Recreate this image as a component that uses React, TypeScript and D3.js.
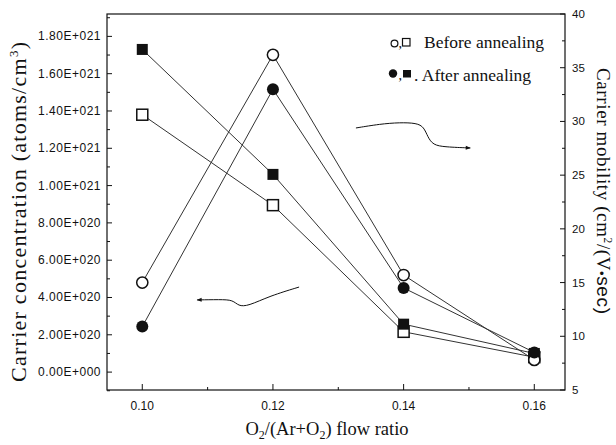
import React from "react";
import * as d3 from "d3";

// O2/(Ar+O2) flow ratios at which the films were deposited
const ratios = [0.1, 0.12, 0.14, 0.16];

// Carrier concentration (atoms/cm^3), left axis — squares
const concBefore = [1.38e21, 8.95e20, 2.16e20, 0.8e20];
const concAfter = [1.73e21, 1.06e21, 2.57e20, 1.0e20];

// Carrier mobility (cm^2/(V·sec)), right axis — circles
const mobBefore = [15.0, 36.2, 15.7, 7.8];
const mobAfter = [10.9, 33.0, 14.5, 8.5];

// Axis ticks
const ratioTicks = [0.1, 0.12, 0.14, 0.16];
const concTicks = [0, 2e20, 4e20, 6e20, 8e20, 1e21, 1.2e21, 1.4e21, 1.6e21, 1.8e21];
const mobilityTicks = [5, 10, 15, 20, 25, 30, 35, 40];

// Hand-drawn guide arrows, in data units (ratio, value on the axis they point to)
const concArrow: [number, number][] = [
  [0.124, 4.56e20],
  [0.1195, 4.08e20],
  [0.1162, 3.54e20],
  [0.1147, 3.54e20],
  [0.1139, 3.87e20],
  [0.1119, 3.89e20],
  [0.1084, 3.87e20],
];
const mobilityArrow: [number, number][] = [
  [0.1327, 29.39],
  [0.1364, 29.76],
  [0.1394, 29.9],
  [0.142, 29.85],
  [0.1431, 29.48],
  [0.1437, 28.55],
  [0.1445, 27.81],
  [0.1463, 27.62],
  [0.1502, 27.53],
];

const W = 616;
const H = 445;
const left = 107;
const right = 565;
const top = 14;
const bottom = 390;

const serif = "'Liberation Serif', 'DejaVu Serif', serif";
const sans = "'Liberation Sans', Arial, sans-serif";
const ink = "#111";
const lineInk = "#333";

function sci(v: number): string {
  if (v === 0) return "0.00E+000";
  const e = Math.floor(Math.log10(v) + 1e-9);
  const m = v / Math.pow(10, e);
  return `${m.toFixed(2)}E+${String(e).padStart(3, "0")}`;
}

function midpoints(t: number[]): number[] {
  const out: number[] = [];
  for (let i = 0; i < t.length - 1; i++) out.push((t[i] + t[i + 1]) / 2);
  return out;
}

export default function App() {
  const x = d3.scaleLinear().domain([0.0946, 0.1647]).range([left, right]);
  const yC = d3.scaleLinear().domain([-0.96e20, 1.92e21]).range([bottom, top]);
  const yM = d3.scaleLinear().domain([5, 40]).range([bottom, top]);

  const lineC = d3
    .line<number>()
    .x((_, i) => x(ratios[i]))
    .y((d) => yC(d));
  const lineM = d3
    .line<number>()
    .x((_, i) => x(ratios[i]))
    .y((d) => yM(d));

  const arrowC = d3
    .line<[number, number]>()
    .x((d) => x(d[0]))
    .y((d) => yC(d[1]))
    .curve(d3.curveBasis);
  const arrowM = d3
    .line<[number, number]>()
    .x((d) => x(d[0]))
    .y((d) => yM(d[1]))
    .curve(d3.curveBasis);

  const sq = 11;
  const r = 5.6;

  return (
    <svg
      width={W}
      height={H}
      viewBox={`0 0 ${W} ${H}`}
      style={{ position: "absolute", left: 0, top: 0, background: "#fff" }}
    >
      <defs>
        <marker
          id="head"
          viewBox="0 0 10 10"
          refX="9"
          refY="5"
          markerWidth="7"
          markerHeight="5"
          orient="auto"
          markerUnits="userSpaceOnUse"
        >
          <path d="M0,1 L10,5 L0,9 z" fill={ink} />
        </marker>
      </defs>
      <rect width={W} height={H} fill="#fff" />

      {/* frame */}
      <rect
        x={left}
        y={top}
        width={right - left}
        height={bottom - top}
        fill="none"
        stroke={ink}
        strokeWidth={1.2}
      />

      {/* left axis ticks (inside) */}
      {concTicks.map((t) => (
        <g key={"c" + t}>
          <line x1={left} x2={left + 5} y1={yC(t)} y2={yC(t)} stroke={ink} />
          <text
            x={101}
            y={yC(t) + 4}
            textAnchor="end"
            fontFamily={sans}
            fontSize={12}
            letterSpacing={0.5}
            fill={ink}
          >
            {sci(t)}
          </text>
        </g>
      ))}
      {[-1e20, ...midpoints(concTicks), 1.9e21].map((t) => (
        <line key={"cm" + t} x1={left} x2={left + 3} y1={yC(t)} y2={yC(t)} stroke={ink} />
      ))}

      {/* right axis ticks (inside) */}
      {mobilityTicks.map((t) => (
        <g key={"m" + t}>
          <line x1={right - 5} x2={right} y1={yM(t)} y2={yM(t)} stroke={ink} />
          <text x={572} y={yM(t) + 4} fontFamily={sans} fontSize={11.5} fill={ink}>
            {t}
          </text>
        </g>
      ))}
      {midpoints(mobilityTicks).map((t) => (
        <line key={"mm" + t} x1={right - 3} x2={right} y1={yM(t)} y2={yM(t)} stroke={ink} />
      ))}

      {/* bottom axis ticks (inside) */}
      {ratioTicks.map((t) => (
        <g key={"r" + t}>
          <line x1={x(t)} x2={x(t)} y1={bottom} y2={bottom - 6} stroke={ink} />
          <text
            x={x(t)}
            y={410}
            textAnchor="middle"
            fontFamily={sans}
            fontSize={12}
            fill={ink}
          >
            {t.toFixed(2)}
          </text>
        </g>
      ))}
      {midpoints(ratioTicks).map((t) => (
        <line key={"rm" + t} x1={x(t)} x2={x(t)} y1={bottom} y2={bottom - 3} stroke={ink} />
      ))}

      {/* series lines */}
      {[concAfter, concBefore].map((s, i) => (
        <path key={"lc" + i} d={lineC(s) ?? ""} fill="none" stroke={lineInk} strokeWidth={1} />
      ))}
      {[mobAfter, mobBefore].map((s, i) => (
        <path key={"lm" + i} d={lineM(s) ?? ""} fill="none" stroke={lineInk} strokeWidth={1} />
      ))}

      {/* squares: concentration */}
      {concBefore.map((v, i) => (
        <rect
          key={"sb" + i}
          x={x(ratios[i]) - sq / 2}
          y={yC(v) - sq / 2}
          width={sq}
          height={sq}
          fill="#fff"
          stroke={ink}
          strokeWidth={1.5}
        />
      ))}
      {concAfter.map((v, i) => (
        <rect
          key={"sa" + i}
          x={x(ratios[i]) - sq / 2}
          y={yC(v) - sq / 2}
          width={sq}
          height={sq}
          fill={ink}
        />
      ))}

      {/* circles: mobility */}
      {mobBefore.map((v, i) => (
        <circle
          key={"cb" + i}
          cx={x(ratios[i])}
          cy={yM(v)}
          r={r}
          fill="#fff"
          stroke={ink}
          strokeWidth={1.5}
        />
      ))}
      {mobAfter.map((v, i) => (
        <circle key={"ca" + i} cx={x(ratios[i])} cy={yM(v)} r={r + 0.4} fill={ink} />
      ))}

      {/* guide arrows */}
      <path
        d={arrowC(concArrow) ?? ""}
        fill="none"
        stroke={ink}
        strokeWidth={1}
        markerEnd="url(#head)"
      />
      <path
        d={arrowM(mobilityArrow) ?? ""}
        fill="none"
        stroke={ink}
        strokeWidth={1}
        markerEnd="url(#head)"
      />

      {/* legend */}
      <g fill={ink} fontFamily={serif}>
        <circle cx={394.5} cy={43.5} r={3.4} fill="none" stroke={ink} strokeWidth={1.2} />
        <text x={398.5} y={48} fontSize={14}>
          ,
        </text>
        <rect x={402.5} y={38.5} width={7.5} height={7.5} fill="none" stroke={ink} strokeWidth={1.2} />
        <text x={424} y={48} fontSize={17.5}>
          Before annealing
        </text>

        <circle cx={393} cy={73.5} r={4.2} />
        <text x={398.5} y={80} fontSize={14}>
          ,
        </text>
        <rect x={403} y={70} width={8} height={7.5} />
        <text x={414} y={81} fontSize={17.5}>
          . After annealing
        </text>
      </g>

      {/* axis titles */}
      <text
        x={327}
        y={435}
        textAnchor="middle"
        fontFamily={serif}
        fontSize={18.5}
        fill={ink}
      >
        O<tspan fontSize={12} dy={4}>2</tspan>
        <tspan dy={-4}>/(Ar+O</tspan>
        <tspan fontSize={12} dy={4}>2</tspan>
        <tspan dy={-4}>) flow ratio</tspan>
      </text>

      <text
        transform={`translate(26, 212) rotate(-90)`}
        textAnchor="middle"
        fontFamily={serif}
        fontSize={22}
        textLength={340}
        lengthAdjust="spacing"
        fill={ink}
      >
        Carrier concentration (atoms/cm
        <tspan fontSize={13} dy={-8}>3</tspan>
        <tspan dy={8}>)</tspan>
      </text>

      <text
        transform={`translate(597, 191) rotate(90)`}
        textAnchor="middle"
        fontFamily={serif}
        fontSize={19}
        textLength={246}
        lengthAdjust="spacing"
        fill={ink}
      >
        Carrier mobility (cm
        <tspan fontSize={11.5} dy={-7}>2</tspan>
        <tspan dy={7}>/(V</tspan>
        <tspan fontFamily={sans} fontSize={13}>•</tspan>
        <tspan fontFamily={sans}>sec)</tspan>
      </text>
    </svg>
  );
}
